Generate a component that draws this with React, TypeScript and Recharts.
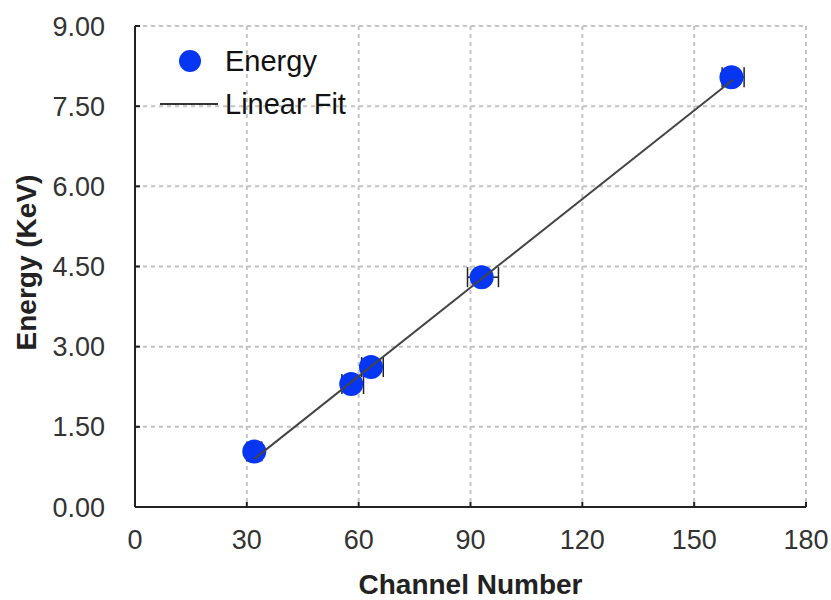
import React from 'react';
import { ScatterChart, Scatter, XAxis, YAxis, CartesianGrid, ErrorBar, Legend } from 'recharts';

const channels = [32, 58, 63.3, 93, 160];
const energies = [1.04, 2.3, 2.62, 4.3, 8.04];
const channelErrLow = [2, 2.5, 2.5, 3.8, 2.5];
const channelErrHigh = [2, 3.3, 3.3, 4.5, 3.4];
const fitChannels = [32, 160.5];
const fitEnergies = [0.9, 8.0];
const xTicks = [0, 30, 60, 90, 120, 150, 180];
const yTicks = [0, 1.5, 3, 4.5, 6, 7.5, 9];

const energyData = channels.map((c, i) => ({ x: c, y: energies[i], err: [channelErrLow[i], channelErrHigh[i]] }));
const fitData = fitChannels.map((c, i) => ({ x: c, y: fitEnergies[i] }));

const FONT = '"Liberation Sans", Arial, sans-serif';
const BLUE = '#0636f2';

const LegendBox = () => (
  <svg width={230} height={90} style={{ overflow: 'visible' }}>
    <circle cx={35} cy={21} r={11} fill={BLUE} />
    <text x={70} y={31} fontSize={29} fontFamily={FONT} fill="#111">Energy</text>
    <line x1={5} x2={63} y1={64} y2={64} stroke="#333" strokeWidth={2} />
    <text x={70} y={74} fontSize={29} fontFamily={FONT} fill="#111">Linear Fit</text>
  </svg>
);

export default function App() {
  return (
    <div style={{ position: 'absolute', left: 0, top: 0, width: 831, height: 600, background: '#fff' }}>
      <ScatterChart width={831} height={600} margin={{ top: 26, right: 25, bottom: 0, left: 0 }}>
        <CartesianGrid stroke="#c4c4c4" strokeWidth={2} strokeDasharray="4 4" />
        <XAxis
          type="number"
          dataKey="x"
          domain={[0, 180]}
          ticks={xTicks}
          height={93}
          stroke="#222"
          strokeWidth={2}
          tickSize={-5}
          tickMargin={28}
          tick={{ fill: '#333', fontSize: 27, fontFamily: FONT }}
          label={{
            content: (p: any) => (
              <text
                x={p.viewBox.x + p.viewBox.width / 2}
                y={594}
                textAnchor="middle"
                fontSize={28}
                fontWeight="bold"
                fontFamily={FONT}
                fill="#222"
              >
                Channel Number
              </text>
            ),
          }}
        />
        <YAxis
          type="number"
          dataKey="y"
          domain={[0, 9]}
          ticks={yTicks}
          width={135}
          stroke="#222"
          strokeWidth={2}
          tickSize={-5}
          tickMargin={35}
          tickFormatter={(v: number) => v.toFixed(2)}
          tick={{ fill: '#333', fontSize: 27, fontFamily: FONT }}
          label={{
            content: (p: any) => {
              const cy = p.viewBox.y + p.viewBox.height / 2 - 4;
              return (
                <text
                  x={26}
                  y={cy}
                  transform={`rotate(-90, 26, ${cy})`}
                  textAnchor="middle"
                  dominantBaseline="central"
                  fontSize={28}
                  fontWeight="bold"
                  fontFamily={FONT}
                  fill="#222"
                >
                  Energy (KeV)
                </text>
              );
            },
          }}
        />
        <Legend
          layout="horizontal"
          verticalAlign="middle"
          align="center"
          wrapperStyle={{ position: 'absolute', left: 155, top: 40, width: 230, height: 90 }}
          content={() => <LegendBox />}
        />
        <Scatter name="Energy error" data={energyData} shape={() => null} isAnimationActive={false}>
          <ErrorBar dataKey="err" direction="x" width={10} stroke="#222" strokeWidth={1.5} />
        </Scatter>
        <Scatter name="Energy" data={energyData} fill={BLUE} isAnimationActive={false}
          shape={(p: any) => <circle cx={p.cx} cy={p.cy} r={12} fill={BLUE} />} />
        <Scatter
          name="Linear Fit"
          data={fitData}
          line={{ stroke: '#444', strokeWidth: 2 }}
          shape={() => null}
          isAnimationActive={false}
        />
      </ScatterChart>
    </div>
  );
}
